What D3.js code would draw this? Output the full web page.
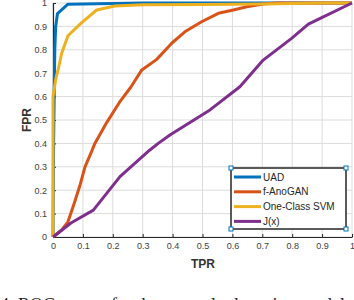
<!DOCTYPE html>
<html>
<head>
<meta charset="utf-8">
<style>
  body { margin: 0; background: #fff; }
  svg { display: block; }
  .tick text { font-family: "Liberation Sans", Arial, sans-serif; font-size: 9px; fill: #404040; }
</style>
</head>
<body>
<script src="https://cdn.jsdelivr.net/npm/d3@7"></script>
<script>
// ROC data, [x, y] pairs
var uad = [[0,0],[0.002,0.4],[0.004,0.6],[0.006,0.8],[0.009,0.9],[0.015,0.955],[0.05,0.995],[0.3,1],[1,1]];
var anogan = [[0,0],[0.029,0.03],[0.05,0.065],[0.07,0.14],[0.09,0.22],[0.107,0.3],[0.129,0.365],[0.14,0.4],
              [0.18,0.49],[0.222,0.575],[0.26,0.64],[0.297,0.714],[0.347,0.759],[0.397,0.828],[0.441,0.877],
              [0.497,0.92],[0.553,0.956],[0.603,0.97],[0.648,0.984],[0.703,0.996],[0.75,1],[1,1]];
var ocsvm = [[0,0],[0,0.6],[0.01,0.68],[0.018,0.72],[0.029,0.785],[0.05,0.86],[0.096,0.916],[0.146,0.97],
             [0.207,0.987],[0.3,0.992],[0.5,0.994],[0.7,0.996],[0.9,1],[1,1]];
var jx = [[0,0],[0.06,0.06],[0.135,0.115],[0.224,0.258],[0.324,0.372],[0.352,0.4],[0.391,0.436],
          [0.525,0.543],[0.625,0.642],[0.703,0.756],[0.798,0.849],[0.854,0.91],[0.904,0.941],[1,1]];
var names = ["UAD", "f-AnoGAN", "One-Class SVM", "J(x)"];
var colors = ["#0072BD", "#D95319", "#EDB120", "#7E2F8E"];
var ticks = [0,0.1,0.2,0.3,0.4,0.5,0.6,0.7,0.8,0.9,1];

var width = 354, height = 300;
var svg = d3.select("body").append("svg").attr("width", width).attr("height", height);

var x = d3.scaleLinear().domain([0, 1]).range([53, 352]);
var y = d3.scaleLinear().domain([0, 1]).range([237, 3]);

// grid
svg.append("g").selectAll("line").data(ticks).enter().append("line")
    .attr("x1", d => x(d)).attr("x2", d => x(d)).attr("y1", y(0)).attr("y2", y(1))
    .style("stroke", "#dcdcdc").style("stroke-width", 1);
svg.append("g").selectAll("line").data(ticks).enter().append("line")
    .attr("x1", x(0)).attr("x2", x(1)).attr("y1", d => y(d)).attr("y2", d => y(d))
    .style("stroke", "#dcdcdc").style("stroke-width", 1);

var fmt = d => d == 0 || d == 1 ? d3.format("d")(d) : d3.format(".1f")(d);

var xAxis = svg.append("g").attr("transform", "translate(0," + y(0) + ")")
    .call(d3.axisBottom(x).tickValues(ticks).tickFormat(fmt).tickSizeInner(-3).tickSizeOuter(0).tickPadding(6));
var yAxis = svg.append("g").attr("transform", "translate(" + x(0) + ",0)")
    .call(d3.axisLeft(y).tickValues(ticks).tickFormat(fmt).tickSizeInner(-3).tickSizeOuter(0).tickPadding(6));
[xAxis, yAxis].forEach(function (a) {
    a.select(".domain").style("stroke", "#262626").style("stroke-width", 1.2);
    a.selectAll(".tick line").style("stroke", "#262626");
});

// curves
var line = d3.line().x(d => x(d[0])).y(d => y(d[1]));
[uad, anogan, ocsvm, jx].forEach(function (s, i) {
    svg.append("path").datum(s).attr("d", line)
        .style("fill", "none").style("stroke", colors[i]).style("stroke-width", 3)
        .style("stroke-linejoin", "round");
});

// axis labels
svg.append("text").attr("x", 203).attr("y", 268).attr("text-anchor", "middle")
    .style("font-family", "Liberation Sans, Arial, sans-serif").style("font-size", "12px")
    .style("font-weight", "bold").style("fill", "#333").text("TPR");
svg.append("text").attr("transform", "translate(31,120) rotate(-90)").attr("text-anchor", "middle")
    .style("font-family", "Liberation Sans, Arial, sans-serif").style("font-size", "12px")
    .style("font-weight", "bold").style("fill", "#333").text("FPR");

// legend
var lg = svg.append("g");
var lx0 = 231, ly0 = 168, lw = 115, lh = 61;
lg.append("rect").attr("x", lx0).attr("y", ly0).attr("width", lw).attr("height", lh)
    .style("fill", "#fff").style("stroke", "#262626").style("stroke-width", 1.5);
names.forEach(function (n, i) {
    var yy = ly0 + 9 + i * 14.8;
    lg.append("line").attr("x1", lx0 + 3).attr("x2", lx0 + 30).attr("y1", yy).attr("y2", yy)
        .style("stroke", colors[i]).style("stroke-width", 3);
    lg.append("text").attr("x", lx0 + 32).attr("y", yy + 3.5)
        .style("font-family", "Liberation Sans, Arial, sans-serif").style("font-size", "10px")
        .style("fill", "#262626").text(n);
});
[[lx0, ly0], [lx0 + lw, ly0], [lx0, ly0 + lh], [lx0 + lw, ly0 + lh]].forEach(function (c) {
    lg.append("rect").attr("x", c[0] - 2).attr("y", c[1] - 2).attr("width", 4).attr("height", 4)
        .style("fill", "#fff").style("stroke", "#0072BD").style("stroke-width", 1);
});

// caption, cut off at the bottom as in the source
svg.append("text").attr("x", 0).attr("y", 311)
    .style("font-family", "Liberation Serif, Times New Roman, serif").style("font-size", "18px")
    .style("fill", "#222").text("4.  ROC curves for the anomaly detection models");
</script>
</body>
</html>
